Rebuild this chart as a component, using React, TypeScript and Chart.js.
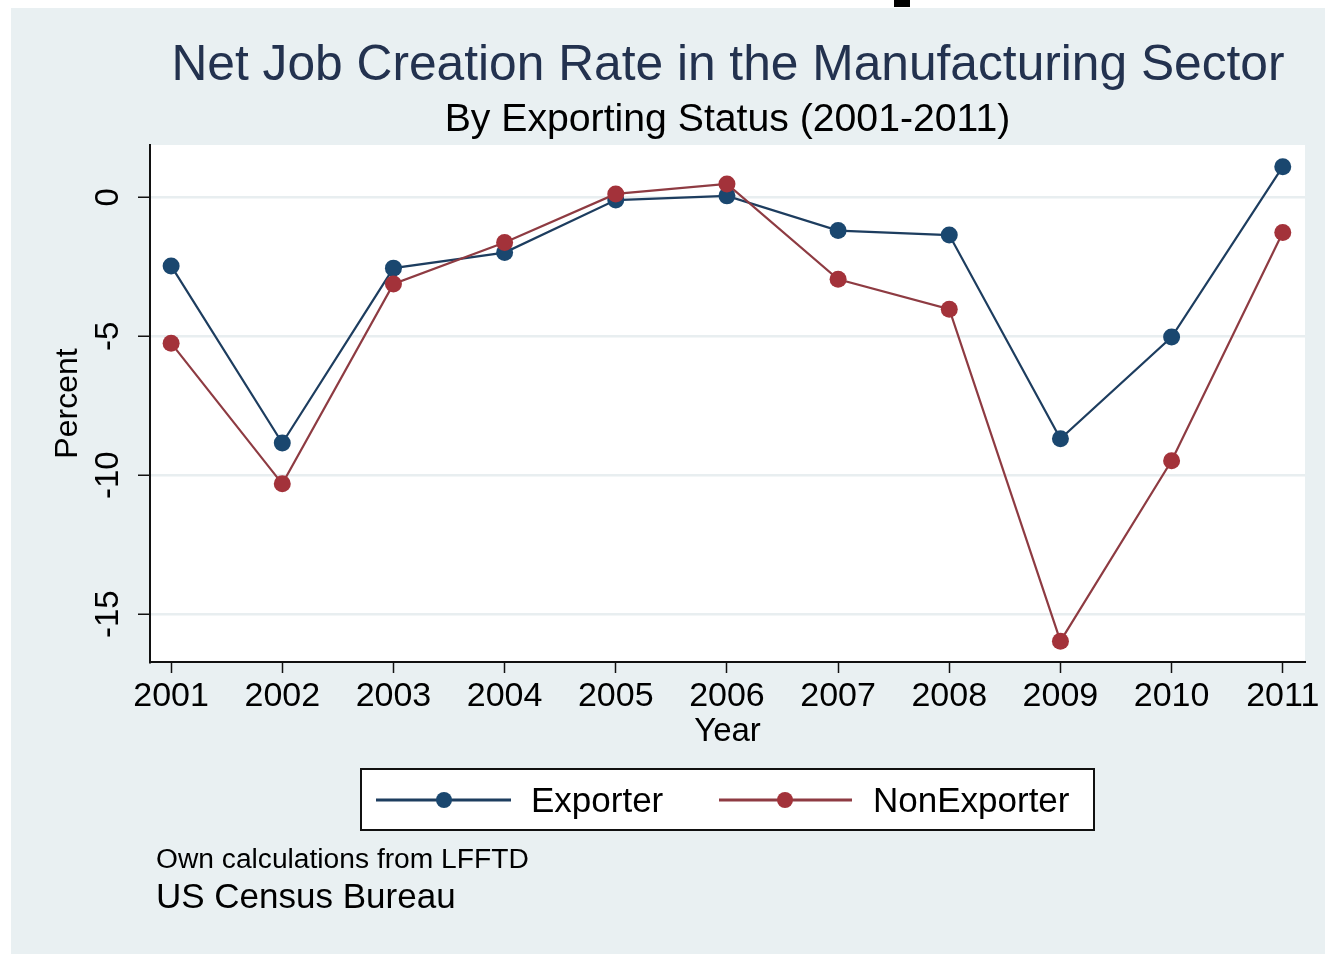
import React, { useEffect, useRef } from "react";
import { Chart, registerables } from "chart.js";

Chart.register(...registerables);

// ---- data ----
const years = [2001, 2002, 2003, 2004, 2005, 2006, 2007, 2008, 2009, 2010, 2011];
const exporter = [-2.47, -8.84, -2.55, -1.99, -0.1, 0.05, -1.2, -1.36, -8.69, -5.03, 1.1];
const nonExporter = [-5.25, -10.31, -3.12, -1.63, 0.12, 0.48, -2.95, -4.03, -15.97, -9.48, -1.27];
const yTicks = [0, -5, -10, -15];
const xTicks = years;
const seriesLabels = ["Exporter", "NonExporter"];
const titleText = "Net Job Creation Rate in the Manufacturing Sector";
const subtitleText = "By Exporting Status (2001-2011)";
const yTitleText = "Percent";
const xTitleText = "Year";
const noteLines = ["Own calculations from LFFTD", "US Census Bureau"];

// ---- style ----
const FONT = "'Liberation Sans', Arial, Helvetica, sans-serif";
const BG = "#e9f0f2";
const GRID = "#e8eef0";
const NAVY = "#1a476f";
const NAVY_LINE = "#1d3d5f";
const MAROON = "#a3323a";
const MAROON_LINE = "#8e3b42";
const W = 1314;
const H = 946;

const decorPlugin = {
  id: "decor",
  beforeDraw(chart: any) {
    const { ctx, chartArea: a } = chart;
    ctx.save();
    ctx.fillStyle = BG;
    ctx.fillRect(0, 0, chart.width, chart.height);
    ctx.fillStyle = "#ffffff";
    ctx.fillRect(a.left, a.top, a.right - a.left, a.bottom - a.top);
    ctx.restore();
  },
  afterDraw(chart: any) {
    const { ctx } = chart;
    const xs = chart.scales.x;
    const ys = chart.scales.y;
    ctx.save();
    ctx.textBaseline = "alphabetic";

    // titles
    ctx.fillStyle = "#23324f";
    ctx.font = `49.7px ${FONT}`;
    ctx.textAlign = "center";
    ctx.fillText(titleText, 717, 72);
    ctx.fillStyle = "#000";
    ctx.font = `39.2px ${FONT}`;
    ctx.fillText(subtitleText, 716.5, 123);

    // y tick labels (rotated)
    ctx.font = `33px ${FONT}`;
    ctx.fillStyle = "#000";
    for (const v of yTicks) {
      const py = ys.getPixelForValue(v);
      ctx.save();
      ctx.translate(107, py);
      ctx.rotate(-Math.PI / 2);
      ctx.textAlign = "center";
      ctx.fillText(String(v), 0, 0);
      ctx.restore();
    }
    // y title
    ctx.save();
    ctx.font = `32px ${FONT}`;
    ctx.translate(66, (ys.top + ys.bottom) / 2);
    ctx.rotate(-Math.PI / 2);
    ctx.textAlign = "center";
    ctx.fillText(yTitleText, 0, 0);
    ctx.restore();

    // x tick labels
    ctx.font = `34px ${FONT}`;
    ctx.textAlign = "center";
    for (const v of xTicks) {
      ctx.fillText(String(v), xs.getPixelForValue(v), 698);
    }
    // x title
    ctx.font = `33px ${FONT}`;
    ctx.fillText(xTitleText, (xs.left + xs.right) / 2, 733);

    // legend
    ctx.fillStyle = "#fff";
    ctx.fillRect(350, 761, 733, 61);
    ctx.strokeStyle = "#111";
    ctx.lineWidth = 2;
    ctx.strokeRect(350, 761, 733, 61);
    const items = [
      { x0: 365, x1: 500, mx: 433, tx: 520 },
      { x0: 708, x1: 841, mx: 774, tx: 862 },
    ];
    chart.data.datasets.forEach((ds: any, i: number) => {
      const it = items[i];
      const ly = 792;
      ctx.strokeStyle = ds.borderColor;
      ctx.lineWidth = 3;
      ctx.beginPath();
      ctx.moveTo(it.x0, ly);
      ctx.lineTo(it.x1, ly);
      ctx.stroke();
      ctx.fillStyle = ds.pointBackgroundColor;
      ctx.beginPath();
      ctx.arc(it.mx, ly, 8, 0, Math.PI * 2);
      ctx.fill();
      ctx.fillStyle = "#000";
      ctx.font = `35px ${FONT}`;
      ctx.textAlign = "left";
      ctx.fillText(ds.label, it.tx, 804);
    });

    // notes
    ctx.fillStyle = "#000";
    ctx.textAlign = "left";
    ctx.font = `28.2px ${FONT}`;
    ctx.fillText(noteLines[0], 145, 860);
    ctx.font = `35px ${FONT}`;
    ctx.fillText(noteLines[1], 145, 900);

    ctx.restore();
  },
};

export default function App() {
  const canvasRef = useRef<HTMLCanvasElement | null>(null);

  useEffect(() => {
    document.documentElement.style.overflow = "hidden";
    const canvas = canvasRef.current;
    if (!canvas) return;
    const chart = new Chart(canvas, {
      type: "line",
      data: {
        datasets: [
          {
            label: seriesLabels[0],
            data: years.map((x, i) => ({ x, y: exporter[i] })),
            borderColor: NAVY_LINE,
            backgroundColor: NAVY,
            pointBackgroundColor: NAVY,
            pointBorderColor: NAVY,
            pointBorderWidth: 0,
            pointRadius: 8.5,
            borderWidth: 2.2,
            tension: 0,
            order: 1,
          },
          {
            label: seriesLabels[1],
            data: years.map((x, i) => ({ x, y: nonExporter[i] })),
            borderColor: MAROON_LINE,
            backgroundColor: MAROON,
            pointBackgroundColor: MAROON,
            pointBorderColor: MAROON,
            pointBorderWidth: 0,
            pointRadius: 8.5,
            borderWidth: 2.2,
            tension: 0,
            order: 0,
          },
        ],
      },
      options: {
        responsive: false,
        animation: false,
        devicePixelRatio: 1,
        layout: { padding: { left: 0, top: 137, right: 20, bottom: 0 } },
        plugins: {
          legend: { display: false },
          title: { display: false },
          tooltip: { enabled: false },
        },
        scales: {
          x: {
            type: "linear",
            min: 2000.81,
            max: 2011.2,
            afterBuildTicks: (s: any) => {
              s.ticks = xTicks.map((v) => ({ value: v }));
            },
            afterFit: (s: any) => {
              s.height = 292;
            },
            ticks: { display: false },
            grid: {
              drawOnChartArea: false,
              drawTicks: true,
              tickLength: 11,
              tickColor: "#111",
              tickWidth: 1.5,
            },
            border: { display: true, color: "#111", width: 2 },
          },
          y: {
            type: "linear",
            min: -16.72,
            max: 1.88,
            afterBuildTicks: (s: any) => {
              s.ticks = yTicks.map((v) => ({ value: v }));
            },
            afterFit: (s: any) => {
              s.width = 139;
            },
            ticks: { display: false },
            grid: {
              color: GRID,
              lineWidth: 2.5,
              drawTicks: true,
              tickLength: 12,
              tickColor: "#111",
              tickWidth: 1.5,
            },
            border: { display: true, color: "#111", width: 2 },
          },
        },
      },
      plugins: [decorPlugin],
    } as any);
    return () => chart.destroy();
  }, []);

  return (
    <>
      <div
        style={{
          position: "absolute",
          left: 894,
          top: 0,
          width: 16,
          height: 7,
          background: "#000",
        }}
      />
      <div style={{ position: "absolute", left: 11, top: 8, width: W, height: H }}>
        <canvas ref={canvasRef} width={W} height={H} style={{ width: W, height: H, display: "block" }} />
      </div>
    </>
  );
}
